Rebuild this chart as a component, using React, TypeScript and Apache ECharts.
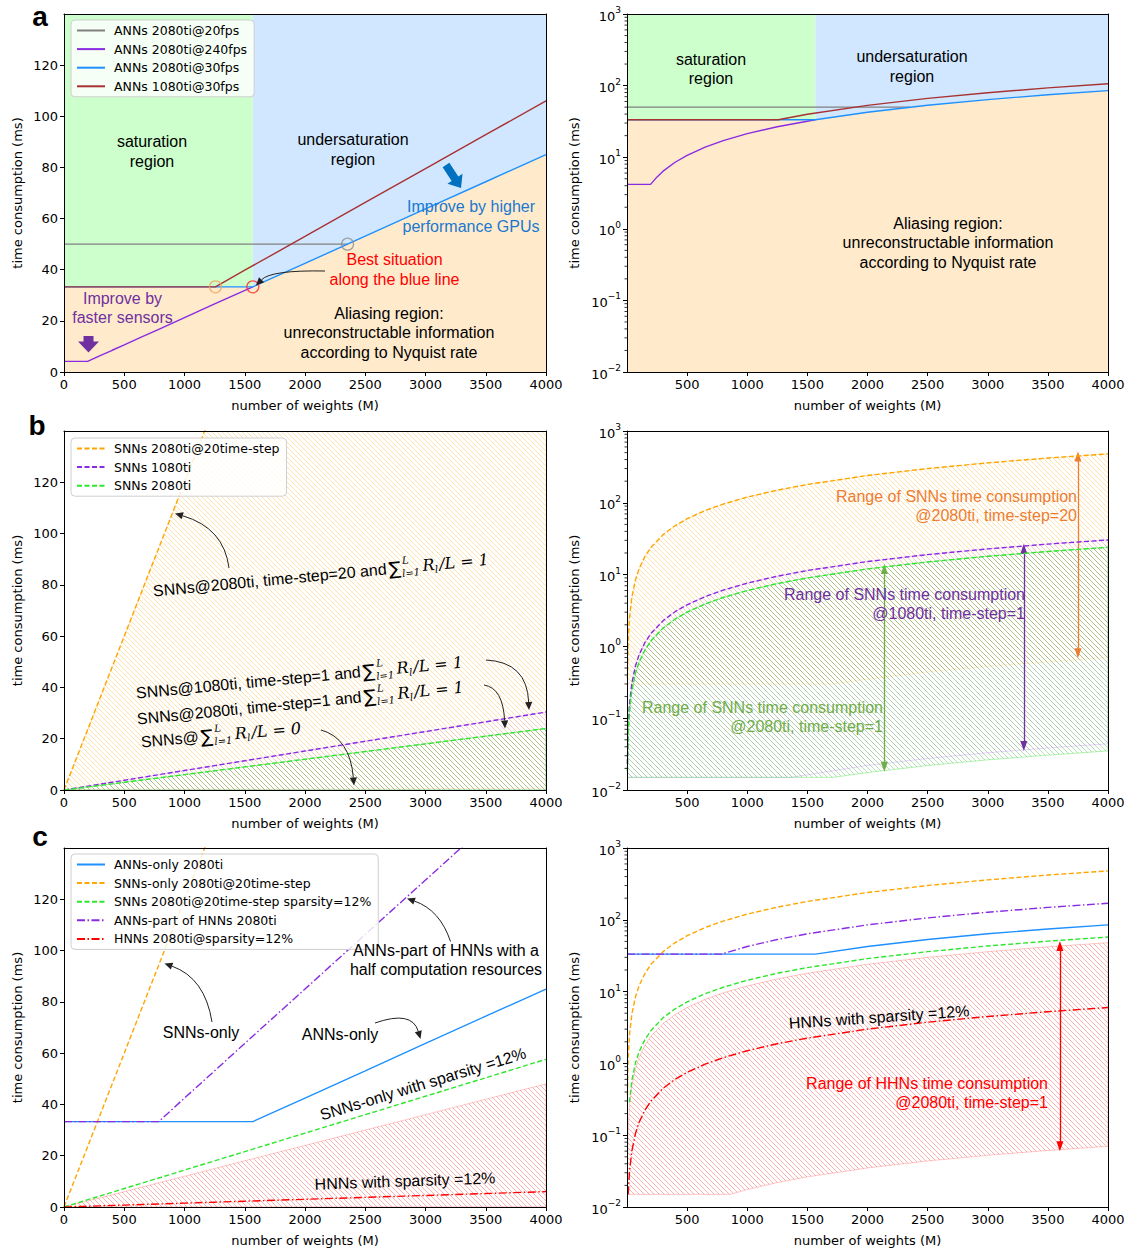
import React, { useEffect, useRef } from "react";
import * as echarts from "echarts";

// ---------------- axes ----------------
const X_MIN = 0;
const X_MAX = 4000;
const X_STEP = 500;
const Y_LIN_MAX = 140;
const Y_LIN_STEP = 20;
const Y_LOG_MIN = 0.01;
const Y_LOG_MAX = 1000;
const xTickValues = [0, 500, 1000, 1500, 2000, 2500, 3000, 3500, 4000];
const xTickValuesLog = [500, 1000, 1500, 2000, 2500, 3000, 3500, 4000];
const yLinTickValues = [0, 20, 40, 60, 80, 100, 120];
const xAxisTitle = "number of weights (M)";
const yAxisTitle = "time consumption (ms)";

// ---------------- panel a ----------------
const namesA = ["ANNs 2080ti@20fps", "ANNs 2080ti@240fps", "ANNs 2080ti@30fps", "ANNs 1080ti@30fps"];
const anns2080ti20fps = [[0, 50], [2353, 50]];
const anns2080ti240fps = [[0, 4.17], [196, 4.17], [250, 5.31], [300, 6.38], [400, 8.5], [500, 10.6], [650, 13.8], [800, 17.0], [1000, 21.3], [1250, 26.6], [1567, 33.3]];
const anns2080ti30fps = [[0, 33.3], [1567, 33.3], [2000, 42.5], [2500, 53.1], [3000, 63.8], [3500, 74.4], [4000, 85.0]];
const anns1080ti30fps = [[0, 33.3], [1257, 33.3], [1500, 39.8], [2000, 53.0], [2500, 66.3], [3000, 79.5], [3500, 92.8], [4000, 106.0]];
const saturationFloor = [[0, 33.3], [1567, 33.3]];
const keyPoints = [[1257, 33.3], [1567, 33.3], [2353, 50]];

// ---------------- panel b ----------------
const namesB = ["SNNs 2080ti@20time-step", "SNNs 1080ti", "SNNs 2080ti"];
const snn2080ti20 = [[0, 0], [3, 0.36], [10, 1.2], [20, 2.4], [40, 4.8], [70, 8.4], [100, 12], [150, 18], [200, 24], [300, 36], [400, 48], [500, 60], [650, 78], [800, 96], [1000, 120], [1250, 150], [1500, 180], [2000, 240], [2500, 300], [3000, 360], [3500, 420], [4000, 480]];
const snn2080ti20Lower = [[0, 0.3], [1714, 0.3], [2000, 0.35], [2500, 0.44], [3000, 0.53], [3500, 0.61], [4000, 0.7]];
const snn1080ti = [[0, 0], [3, 0.023], [10, 0.076], [20, 0.152], [40, 0.304], [70, 0.532], [100, 0.76], [150, 1.14], [200, 1.52], [300, 2.28], [400, 3.04], [500, 3.8], [650, 4.94], [800, 6.08], [1000, 7.6], [1250, 9.5], [1500, 11.4], [2000, 15.2], [2500, 19.0], [3000, 22.8], [3500, 26.6], [4000, 30.4]];
const snn1080tiLower = [[0, 0.015], [1364, 0.015], [2000, 0.022], [2500, 0.0275], [3000, 0.033], [3500, 0.0385], [4000, 0.044]];
const snn2080ti = [[0, 0], [3, 0.018], [10, 0.06], [20, 0.12], [40, 0.24], [70, 0.42], [100, 0.6], [150, 0.9], [200, 1.2], [300, 1.8], [400, 2.4], [500, 3.0], [650, 3.9], [800, 4.8], [1000, 6.0], [1250, 7.5], [1500, 9.0], [2000, 12], [2500, 15], [3000, 18], [3500, 21], [4000, 24]];
const snn2080tiLower = [[0, 0.015], [1714, 0.015], [2000, 0.0175], [2500, 0.0219], [3000, 0.0263], [3500, 0.0306], [4000, 0.035]];
// x, top, bottom
const snnRangeArrows = [[3750, 440, 0.8], [3300, 23, 0.041], [2140, 12, 0.021]];

// ---------------- panel c ----------------
const namesC = ["ANNs-only 2080ti", "SNNs-only 2080ti@20time-step", "SNNs 2080ti@20time-step sparsity=12%", "ANNs-part of HNNs 2080ti", "HNNs 2080ti@sparsity=12%"];
const snnSparse12 = [[0, 0], [20, 0.288], [40, 0.576], [70, 1.01], [100, 1.44], [150, 2.16], [200, 2.88], [300, 4.32], [400, 5.76], [500, 7.2], [650, 9.36], [800, 11.5], [1000, 14.4], [1250, 18.0], [1500, 21.6], [2000, 28.8], [2500, 36.0], [3000, 43.2], [3500, 50.4], [4000, 57.6]];
const hnnAnnPart = [[0, 33.3], [787, 33.3], [1000, 42.5], [1250, 53.1], [1500, 63.8], [2000, 85], [2500, 106.3], [3000, 127.5], [3500, 148.8], [4000, 170]];
const hnnSparse12 = [[0, 0], [10, 0.015], [20, 0.03], [40, 0.06], [70, 0.105], [100, 0.15], [150, 0.225], [200, 0.3], [300, 0.45], [400, 0.6], [500, 0.75], [650, 0.975], [800, 1.2], [1000, 1.5], [1250, 1.88], [1500, 2.25], [2000, 3.0], [2500, 3.75], [3000, 4.5], [3500, 5.25], [4000, 6.0]];
const hnnRangeUpper = [[0, 0], [10, 0.12], [20, 0.24], [40, 0.48], [70, 0.84], [100, 1.2], [150, 1.8], [200, 2.4], [300, 3.6], [400, 4.8], [500, 6], [650, 7.8], [800, 9.6], [1000, 12], [1250, 15], [1500, 18], [2000, 24], [2500, 30], [3000, 36], [3500, 42], [4000, 48]];
const hnnRangeLower = [[0, 0.015], [857, 0.015], [1000, 0.0175], [1250, 0.0219], [1500, 0.0263], [2000, 0.035], [2500, 0.0438], [3000, 0.0525], [3500, 0.0613], [4000, 0.07]];
const hnnRangeArrows = [[3600, 43, 0.07]];

// ---------------- styles ----------------
const FT = '"DejaVu Sans", sans-serif';
const FA = '"Liberation Sans", Arial, sans-serif';
const C = {
  gray: "#808080",
  violet: "#8a2be2",
  blue: "#1e90ff",
  brown: "#a83232",
  orange: "#ffa500",
  green: "#2ee62e",
  red: "#ff0000",
  satFill: "#ccffcc",
  underFill: "#d0e7ff",
  aliasFill: "#ffebcc",
  offOrange: "#ed7d31",
  offPurple: "#7030a0",
  offGreen: "#70ad47",
  offBlue: "#0070c0",
  txtBlue: "#1a78d0",
};
const keyPointColors = ["#f5a35c", "#ff2a2a", "#8c8c8c"];
const DASH = [5, 2.5];
const DASHDOT = [8, 2.5, 1.5, 2.5];

const GRIDS = [
  { left: 64, top: 14, width: 482, height: 358, log: false },
  { left: 627, top: 14, width: 481, height: 358, log: true },
  { left: 64, top: 431, width: 482, height: 359, log: false },
  { left: 627, top: 431, width: 481, height: 359, log: true },
  { left: 64, top: 848, width: 482, height: 359, log: false },
  { left: 627, top: 848, width: 481, height: 359, log: true },
];

type P = number[];
const pos = (pts: P[], log: boolean) => (log ? pts.filter((p) => p[1] > 0) : pts);
const topOf = (gi: number) => (GRIDS[gi].log ? Y_LOG_MAX : Y_LIN_MAX);
const botOf = (gi: number) => (GRIDS[gi].log ? Y_LOG_MIN : 0);

function hatch(color: string) {
  const s = 5;
  const c = document.createElement("canvas");
  c.width = s;
  c.height = s;
  const ctx = c.getContext("2d")!;
  ctx.strokeStyle = color;
  ctx.lineWidth = 1;
  ctx.beginPath();
  for (const k of [-1, 0, 1]) {
    ctx.moveTo(k * s, 0);
    ctx.lineTo(k * s + s, s);
  }
  ctx.stroke();
  return { image: c, repeat: "repeat", imageWidth: s, imageHeight: s };
}

function lineSeries(name: string | undefined, pts: P[], gi: number, color: string, dash: any, extra: any = {}) {
  return {
    type: "line",
    name,
    xAxisIndex: gi,
    yAxisIndex: gi,
    data: pos(pts, GRIDS[gi].log),
    symbol: "none",
    showSymbol: false,
    clip: true,
    silent: true,
    z: 5,
    lineStyle: { color, width: 1.4, type: dash },
    itemStyle: { color },
    emphasis: { disabled: true },
    ...extra,
  };
}

function bandSeries(upper: P[], lower: P[], gi: number, fill: any, stroke: string | null, z: number) {
  const log = GRIDS[gi].log;
  const up = pos(upper, log);
  const lo = pos(lower, log);
  return {
    type: "custom",
    xAxisIndex: gi,
    yAxisIndex: gi,
    clip: true,
    silent: true,
    z,
    data: [[2000, 1]],
    renderItem: (_p: any, api: any) => ({
      type: "polygon",
      shape: { points: [...up.map((p) => api.coord(p)), ...lo.slice().reverse().map((p) => api.coord(p))] },
      style: { fill, stroke: stroke || "none", lineWidth: 1 },
    }),
  };
}

function minorTickSeries(gi: number) {
  const vals: number[][] = [];
  for (let e = -2; e < 3; e++) for (let m = 2; m <= 9; m++) vals.push([X_MIN, m * Math.pow(10, e)]);
  return {
    type: "custom",
    xAxisIndex: gi,
    yAxisIndex: gi,
    silent: true,
    z: 12,
    data: vals,
    renderItem: (_p: any, api: any) => {
      const c = api.coord([api.value(0), api.value(1)]);
      return { type: "line", shape: { x1: c[0] - 2.5, y1: c[1], x2: c[0], y2: c[1] }, style: { stroke: "#000", lineWidth: 0.8 } };
    },
  };
}

function rangeArrowMarkLine(arrows: P[], colors: string[]) {
  return {
    silent: true,
    symbol: ["triangle", "triangle"],
    symbolSize: [7, 10],
    label: { show: false },
    emphasis: { disabled: true },
    data: arrows.map((a, i) => [
      { coord: [a[0], a[1]], lineStyle: { color: colors[i], width: 1.3, type: "solid" }, itemStyle: { color: colors[i] } },
      { coord: [a[0], a[2]] },
    ]),
  };
}

// ---------- graphic helpers ----------
let measureCtx: CanvasRenderingContext2D | null = null;
function tw(text: string, font: string) {
  if (!measureCtx) measureCtx = document.createElement("canvas").getContext("2d");
  measureCtx!.font = font;
  return measureCtx!.measureText(text).width;
}

function txt(text: string, x: number, y: number, color = "#000", align = "center", rot = 0, size = 16) {
  return {
    type: "text",
    x,
    y,
    z: 40,
    silent: true,
    rotation: (rot * Math.PI) / 180,
    style: {
      text,
      fill: color,
      font: `${size}px ${FA}`,
      align,
      verticalAlign: "middle",
      textAlign: align,
      textVerticalAlign: "middle",
      lineHeight: 19.5,
    },
  };
}

function letter(text: string, x: number, y: number) {
  return {
    type: "text",
    x,
    y,
    z: 40,
    silent: true,
    style: { text, fill: "#000", font: `bold 28px ${FA}`, align: "center", verticalAlign: "middle", textAlign: "center", textVerticalAlign: "middle" },
  };
}

function curvedArrow(x1: number, y1: number, cx: number, cy: number, x2: number, y2: number, color = "#222") {
  const tx = x2 - cx;
  const ty = y2 - cy;
  const L = Math.hypot(tx, ty);
  const ux = tx / L;
  const uy = ty / L;
  const hl = 8;
  const hw = 3.6;
  const bx = x2 - ux * hl;
  const by = y2 - uy * hl;
  return [
    { type: "bezierCurve", z: 40, silent: true, shape: { x1, y1, cpx1: cx, cpy1: cy, x2: bx, y2: by }, style: { stroke: color, lineWidth: 1, fill: "none" } },
    { type: "polygon", z: 40, silent: true, shape: { points: [[x2, y2], [bx - uy * hw, by + ux * hw], [bx + uy * hw, by - ux * hw]] }, style: { fill: color } },
  ];
}

function fatArrow(x1: number, y1: number, x2: number, y2: number, sw: number, hw: number, hl: number, color: string) {
  const L = Math.hypot(x2 - x1, y2 - y1);
  const ux = (x2 - x1) / L;
  const uy = (y2 - y1) / L;
  const nx = -uy;
  const ny = ux;
  const bx = x2 - ux * hl;
  const by = y2 - uy * hl;
  const pts = [
    [x1 + (nx * sw) / 2, y1 + (ny * sw) / 2],
    [bx + (nx * sw) / 2, by + (ny * sw) / 2],
    [bx + (nx * hw) / 2, by + (ny * hw) / 2],
    [x2, y2],
    [bx - (nx * hw) / 2, by - (ny * hw) / 2],
    [bx - (nx * sw) / 2, by - (ny * sw) / 2],
    [x1 - (nx * sw) / 2, y1 - (ny * sw) / 2],
  ];
  return { type: "polygon", z: 40, silent: true, shape: { points: pts }, style: { fill: color } };
}

function mathLabel(x: number, y: number, deg: number, prefix: string, rhs: string) {
  const FP = `16px ${FA}`;
  const FSUM = `18px ${FT}`;
  const FI = `italic 16px "DejaVu Serif", serif`;
  const FS = `italic 10px "DejaVu Serif", serif`;
  const t = (text: string, dx: number, dy: number, font: string) => ({
    type: "text",
    x: dx,
    y: dy,
    z: 40,
    style: { text, font, fill: "#000", align: "left", verticalAlign: "middle", textAlign: "left", textVerticalAlign: "middle" },
  });
  const kids: any[] = [];
  let cx = 0;
  kids.push(t(prefix, cx, 0, FP));
  cx += tw(prefix, FP) + 2;
  kids.push(t("∑", cx, 0, FSUM));
  cx += tw("∑", FSUM) + 1;
  kids.push(t("L", cx + 1, -7, FS));
  kids.push(t("l=1", cx, 6, FS));
  cx += tw("l=1", FS) + 3;
  kids.push(t("R", cx, 0, FI));
  cx += tw("R", FI);
  kids.push(t("l", cx, 5, FS));
  cx += tw("l", FS) + 1.5;
  kids.push(t("/L = " + rhs, cx, 0, FI));
  return { type: "group", x, y, z: 40, silent: true, rotation: (deg * Math.PI) / 180, children: kids };
}

function buildOption() {
  const hatchOrange = hatch("rgba(255,165,0,0.32)");
  const hatchPurple = hatch("rgba(220,120,230,0.2)");
  const hatchGreen = hatch("rgba(40,165,40,0.34)");
  const hatchRed = hatch("rgba(255,0,0,0.3)");

  const grids = GRIDS.map((g) => ({ left: g.left, top: g.top, width: g.width, height: g.height, containLabel: false, outerBoundsMode: "none", show: false }));

  const baseLabel = { fontSize: 13, fontFamily: FT, color: "#000" };
  const xAxes: any[] = GRIDS.map((g, i) => ({
    type: "value",
    gridIndex: i,
    position: "bottom",
    min: X_MIN,
    max: X_MAX,
    interval: X_STEP,
    z: 10,
    name: xAxisTitle,
    nameLocation: "middle",
    nameGap: 27,
    nameTextStyle: { fontSize: 13, fontFamily: FT, color: "#000" },
    axisLine: { show: true, onZero: false, lineStyle: { color: "#000", width: 1 } },
    axisTick: { show: true, length: 4, lineStyle: { color: "#000" }, customValues: g.log ? xTickValuesLog : xTickValues },
    axisLabel: {
      ...baseLabel,
      margin: 6,
      customValues: g.log ? xTickValuesLog : xTickValues,
      showMinLabel: true,
      showMaxLabel: true,
      hideOverlap: false,
      formatter: (v: number) => String(Math.round(v)),
    },
    splitLine: { show: false },
  }));
  const yAxes: any[] = GRIDS.map((g, i) =>
    g.log
      ? {
          type: "log",
          logBase: 10,
          gridIndex: i,
          position: "left",
          min: Y_LOG_MIN,
          max: Y_LOG_MAX,
          splitNumber: 5,
          z: 10,
          name: yAxisTitle,
          nameLocation: "middle",
          nameGap: 46,
          nameTextStyle: { fontSize: 13, fontFamily: FT, color: "#000" },
          axisLine: { show: true, onZero: false, lineStyle: { color: "#000", width: 1 } },
          axisTick: { show: true, length: 4, lineStyle: { color: "#000" } },
          axisLabel: {
            ...baseLabel,
            margin: 6,
            formatter: (v: number) => "{b|10}{s|" + String(Math.round(Math.log10(v))).replace("-", "−") + "}",
            rich: {
              b: { fontSize: 13, fontFamily: FT, color: "#000", lineHeight: 17, verticalAlign: "bottom" },
              s: { fontSize: 9, fontFamily: FT, color: "#000", lineHeight: 10, verticalAlign: "top" },
            },
          },
          splitLine: { show: false },
          minorTick: { show: false },
        }
      : {
          type: "value",
          gridIndex: i,
          position: "left",
          min: 0,
          max: Y_LIN_MAX,
          interval: Y_LIN_STEP,
          z: 10,
          name: yAxisTitle,
          nameLocation: "middle",
          nameGap: 40,
          nameTextStyle: { fontSize: 13, fontFamily: FT, color: "#000" },
          axisLine: { show: true, onZero: false, lineStyle: { color: "#000", width: 1 } },
          axisTick: { show: true, length: 4, lineStyle: { color: "#000" }, customValues: yLinTickValues },
          axisLabel: { ...baseLabel, margin: 6, customValues: yLinTickValues },
          splitLine: { show: false },
        }
  );
  // spines (top / right)
  GRIDS.forEach((_g, i) => {
    xAxes.push({ type: "value", gridIndex: i, position: "top", min: 0, max: 1, z: 10, axisLine: { show: true, onZero: false, lineStyle: { color: "#000", width: 1 } }, axisTick: { show: false }, axisLabel: { show: false }, splitLine: { show: false } });
    yAxes.push({ type: "value", gridIndex: i, position: "right", min: 0, max: 1, z: 10, axisLine: { show: true, onZero: false, lineStyle: { color: "#000", width: 1 } }, axisTick: { show: false }, axisLabel: { show: false }, splitLine: { show: false } });
  });

  const series: any[] = [];
  // ---- panel a ----
  for (const gi of [0, 1]) {
    const top = topOf(gi);
    const bot = botOf(gi);
    const sEdge = saturationFloor[saturationFloor.length - 1][0];
    series.push(bandSeries(saturationFloor.map((p) => [p[0], top]), saturationFloor, gi, C.satFill, null, 1));
    const underLower = anns2080ti30fps.filter((p) => p[0] >= sEdge);
    series.push(bandSeries(underLower.map((p) => [p[0], top]), underLower, gi, C.underFill, null, 1));
    series.push(bandSeries(anns2080ti30fps, anns2080ti30fps.map((p) => [p[0], bot]), gi, C.aliasFill, null, 1));
    series.push(lineSeries(namesA[0], anns2080ti20fps, gi, C.gray, "solid"));
    series.push(lineSeries(namesA[1], anns2080ti240fps, gi, C.violet, "solid"));
    series.push(lineSeries(namesA[2], anns2080ti30fps, gi, C.blue, "solid"));
    series.push(lineSeries(namesA[3], anns1080ti30fps, gi, C.brown, "solid"));
  }
  series.push({
    type: "scatter",
    xAxisIndex: 0,
    yAxisIndex: 0,
    symbol: "circle",
    symbolSize: 12,
    silent: true,
    z: 8,
    data: keyPoints.map((p, i) => ({ value: p, itemStyle: { color: "rgba(0,0,0,0)", borderColor: keyPointColors[i], borderWidth: 1.3 } })),
  });

  // ---- panel b ----
  for (const gi of [2, 3]) {
    series.push(bandSeries(snn2080ti20, snn2080ti20Lower, gi, hatchOrange, "rgba(255,165,0,0.18)", 1));
    series.push(bandSeries(snn1080ti, snn1080tiLower, gi, hatchPurple, "rgba(190,110,255,0.3)", 2));
    series.push(bandSeries(snn2080ti, snn2080tiLower, gi, hatchGreen, "rgba(0,220,0,0.3)", 3));
    series.push(lineSeries(namesB[0], snn2080ti20, gi, C.orange, DASH));
    series.push(lineSeries(namesB[1], snn1080ti, gi, C.violet, DASH));
    series.push(
      lineSeries(namesB[2], snn2080ti, gi, C.green, DASH, gi === 3 ? { markLine: rangeArrowMarkLine(snnRangeArrows, [C.offOrange, C.offPurple, C.offGreen]) } : {})
    );
  }

  // ---- panel c ----
  for (const gi of [4, 5]) {
    series.push(bandSeries(hnnRangeUpper, hnnRangeLower, gi, hatchRed, "rgba(255,0,0,0.22)", 1));
    series.push(lineSeries(namesC[0], anns2080ti30fps, gi, C.blue, "solid"));
    series.push(lineSeries(namesC[1], snn2080ti20, gi, C.orange, DASH));
    series.push(lineSeries(namesC[2], snnSparse12, gi, C.green, DASH));
    series.push(lineSeries(namesC[3], hnnAnnPart, gi, C.violet, DASHDOT));
    series.push(
      lineSeries(namesC[4], hnnSparse12, gi, C.red, DASHDOT, gi === 5 ? { markLine: rangeArrowMarkLine(hnnRangeArrows, [C.red]) } : {})
    );
  }
  for (const gi of [1, 3, 5]) series.push(minorTickSeries(gi));

  const legendBase = {
    orient: "vertical",
    itemWidth: 28,
    itemHeight: 14,
    itemGap: 5.6,
    backgroundColor: "rgba(255,255,255,0.82)",
    borderColor: "#cfcfcf",
    borderWidth: 1,
    borderRadius: 4,
    padding: [4, 7, 4, 5],
    selectedMode: false,
    z: 20,
    itemStyle: { opacity: 0 },
    textStyle: { fontSize: 12.5, fontFamily: FT, color: "#000", padding: [0, 0, 0, 4] },
  };
  const legend = [
    { ...legendBase, left: 71, top: 20, data: namesA },
    { ...legendBase, left: 71, top: 438, data: namesB },
    { ...legendBase, left: 71, top: 854, data: namesC },
  ];

  const elements: any[] = [
    letter("a", 40, 16),
    letter("b", 37, 425),
    letter("c", 40, 836.5),
    // panel a left
    txt("saturation\nregion", 152, 151.7),
    txt("undersaturation\nregion", 353, 149.7),
    txt("Improve by higher\nperformance GPUs", 471, 216.3, C.txtBlue),
    txt("Best situation\nalong the blue line", 394.5, 269.7, C.red),
    txt("Aliasing region:\nunreconstructable information\naccording to Nyquist rate", 389, 332.5),
    txt("Improve by\nfaster sensors", 122.5, 307.8, C.offPurple),
    fatArrow(446, 165, 461, 188, 8, 18, 11, C.offBlue),
    fatArrow(88.5, 336, 88.5, 352.5, 10, 21, 11, C.offPurple),
    ...curvedArrow(325, 271, 271, 270, 256, 285.5),
    // panel a right
    txt("saturation\nregion", 711, 69),
    txt("undersaturation\nregion", 912, 66.7),
    txt("Aliasing region:\nunreconstructable information\naccording to Nyquist rate", 948, 242.5),
    // panel b left
    mathLabel(153, 591, 5.4, "SNNs@2080ti, time-step=20 and", "1"),
    mathLabel(136, 693, 5.4, "SNNs@1080ti, time-step=1 and", "1"),
    mathLabel(137, 719, 5.6, "SNNs@2080ti, time-step=1 and", "1"),
    mathLabel(141, 742, 5, "SNNs@", "0"),
    ...curvedArrow(229, 568, 224, 528, 175, 513.5),
    ...curvedArrow(486, 660, 527, 662, 529, 710),
    ...curvedArrow(484, 685, 503, 688, 505, 728.5),
    ...curvedArrow(321, 730, 350, 738, 354, 785.5),
    // panel b right
    txt("Range of SNNs time consumption\n@2080ti, time-step=20", 1077, 506, C.offOrange, "right"),
    txt("Range of SNNs time consumption\n@1080ti, time-step=1", 1025, 604, C.offPurple, "right"),
    txt("Range of SNNs time consumption\n@2080ti, time-step=1", 883, 717, C.offGreen, "right"),
    // panel c left
    txt("SNNs-only", 201, 1032.7),
    txt("ANNs-only", 340, 1034),
    txt("ANNs-part of HNNs with a\nhalf computation resources", 446, 960),
    txt("SNNs-only with sparsity =12%", 423, 1084, "#000", "center", 17),
    txt("HNNs with sparsity =12%", 405, 1181, "#000", "center", 2),
    ...curvedArrow(212, 1022, 205, 978, 164.5, 963.5),
    ...curvedArrow(375, 1023, 412, 1010, 420.5, 1039),
    ...curvedArrow(450.5, 941.5, 440, 910, 407, 898.5),
    // panel c right
    txt("HNNs with sparsity =12%", 879, 1017, "#000", "center", 4),
    txt("Range of HHNs time consumption\n@2080ti, time-step=1", 1048, 1093, C.red, "right"),
  ];

  return {
    animation: false,
    backgroundColor: "#ffffff",
    textStyle: { fontFamily: FT },
    grid: grids,
    xAxis: xAxes,
    yAxis: yAxes,
    legend,
    series,
    graphic: { elements },
  };
}

export default function App() {
  const ref = useRef<HTMLDivElement>(null);
  useEffect(() => {
    const chart = echarts.init(ref.current!, null, { renderer: "svg" });
    chart.setOption(buildOption() as any);
    return () => chart.dispose();
  }, []);
  return <div ref={ref} style={{ position: "absolute", left: 0, top: 0, width: 1132, height: 1250, background: "#fff" }} />;
}
